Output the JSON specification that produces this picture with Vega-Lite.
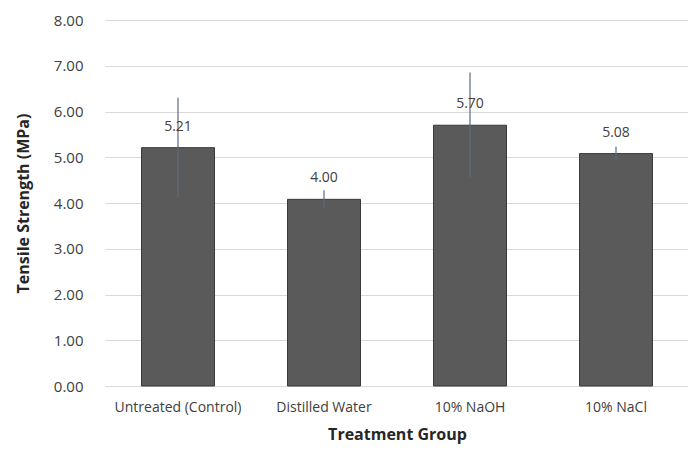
{
  "$schema": "https://vega.github.io/schema/vega-lite/v6.json",
  "autosize": {"type": "none"},
  "width": 584,
  "height": 366,
  "padding": {"left": 105, "top": 20, "right": 0, "bottom": 64},
  "background": "white",
  "config": {
    "font": "Open Sans",
    "view": {"stroke": null},
    "axis": {"labelColor": "#404040", "titleColor": "#262626", "labelFont": "Open Sans", "titleFont": "Open Sans"},
    "axisY": {
      "titleFontSize": 16, "titleFontWeight": "bold", "titlePadding": 22,
      "labelFontSize": 15, "labelPadding": 22, "labelOverlap": false,
      "domain": false, "ticks": false,
      "grid": true, "gridColor": "#d9d9d9", "gridWidth": 1
    }
  },
  "data": {
    "values": [
      {"group": "Untreated (Control)", "mean": 5.21, "lo": 4.12, "hi": 6.30, "label": "5.21"},
      {"group": "Distilled Water", "mean": 4.08, "lo": 3.88, "hi": 4.28, "label": "4.00"},
      {"group": "10% NaOH", "mean": 5.70, "lo": 4.55, "hi": 6.85, "label": "5.70"},
      {"group": "10% NaCl", "mean": 5.08, "lo": 4.93, "hi": 5.23, "label": "5.08"}
    ]
  },
  "encoding": {
    "x": {
      "field": "group", "type": "nominal", "sort": null,
      "scale": {"paddingInner": 0.5, "paddingOuter": 0.25},
      "axis": {
        "title": "Treatment Group", "titleFontSize": 16, "titleFontWeight": "bold", "titlePadding": 12,
        "labelAngle": 0, "labelFontSize": 14, "labelPadding": 14,
        "domain": true, "domainColor": "#d9d9d9", "ticks": false
      }
    }
  },
  "layer": [
    {
      "mark": {"type": "bar", "color": "#5a5a5a", "stroke": "#3a3a3a", "strokeWidth": 1},
      "encoding": {
        "y": {
          "field": "mean", "type": "quantitative",
          "scale": {"domain": [0, 8]},
          "axis": {"title": "Tensile Strength (MPa)", "values": [0, 1, 2, 3, 4, 5, 6, 7, 8], "format": ".2f"}
        }
      }
    },
    {
      "mark": {"type": "rule", "color": "#5d6a7e", "strokeWidth": 1.2},
      "encoding": {
        "y": {"field": "lo", "type": "quantitative", "axis": {"title": "Tensile Strength (MPa)", "values": [0, 1, 2, 3, 4, 5, 6, 7, 8], "format": ".2f"}},
        "y2": {"field": "hi"}
      }
    },
    {
      "mark": {"type": "text", "fontSize": 14, "color": "#404040", "dy": -21},
      "encoding": {
        "y": {"field": "mean", "type": "quantitative", "axis": {"title": "Tensile Strength (MPa)", "values": [0, 1, 2, 3, 4, 5, 6, 7, 8], "format": ".2f"}},
        "text": {"field": "label"}
      }
    }
  ]
}
